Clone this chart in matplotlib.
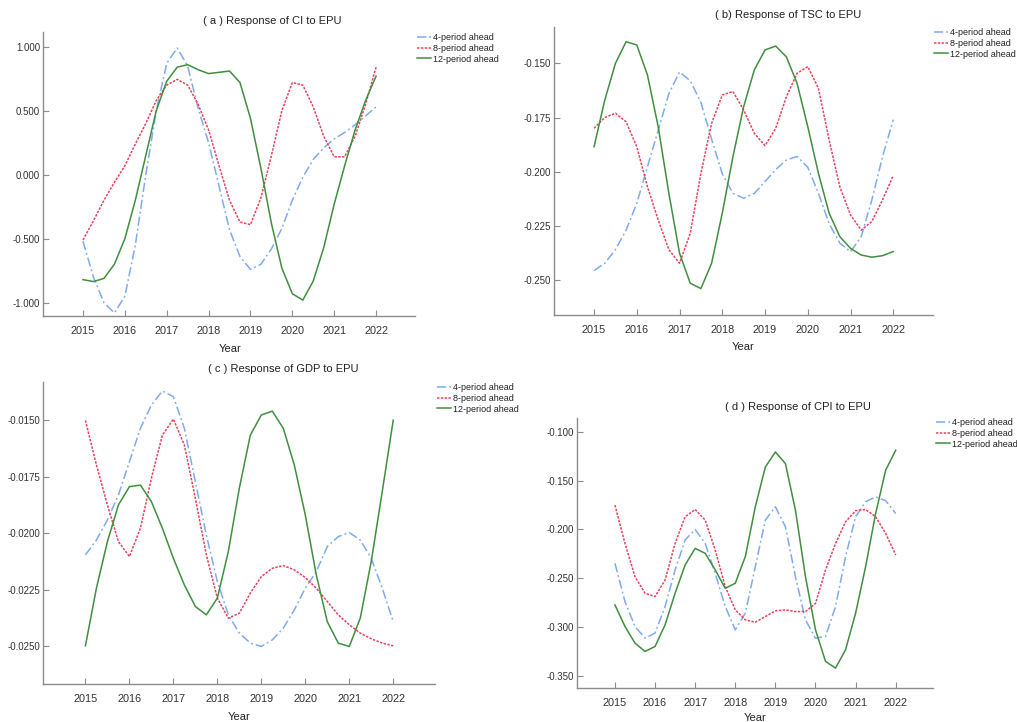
import matplotlib.pyplot as plt

plt.rcParams['font.family'] = ['Liberation Sans', 'DejaVu Sans']

W, H = 1017, 722

# quarter-year grid shared by all panels
years = [2015 + 0.25 * i for i in range(29)]
year_ticks = [2015, 2016, 2017, 2018, 2019, 2020, 2021, 2022]
labels = ['4-period ahead', '8-period ahead', '12-period ahead']

# ( a ) CI
ci_4 = [-0.52, -0.80, -1.00, -1.08, -0.95, -0.55, 0.00, 0.50, 0.87, 0.99, 0.85, 0.52, 0.25,
        -0.09, -0.43, -0.64, -0.74, -0.70, -0.58, -0.42, -0.20, -0.02, 0.12, 0.21, 0.28,
        0.33, 0.39, 0.46, 0.53]
ci_8 = [-0.51, -0.36, -0.20, -0.06, 0.07, 0.24, 0.40, 0.58, 0.70, 0.745, 0.70, 0.55, 0.35,
        0.07, -0.20, -0.37, -0.39, -0.18, 0.15, 0.50, 0.72, 0.70, 0.53, 0.30, 0.14,
        0.14, 0.30, 0.55, 0.84]
ci_12 = [-0.82, -0.835, -0.81, -0.70, -0.50, -0.20, 0.15, 0.50, 0.73, 0.84, 0.86, 0.82, 0.79,
         0.80, 0.81, 0.72, 0.44, 0.05, -0.38, -0.73, -0.93, -0.98, -0.83, -0.57, -0.23,
         0.07, 0.35, 0.58, 0.77]

# ( b ) TSC
tsc_4 = [-0.2457, -0.2423, -0.2360, -0.2270, -0.2146, -0.1977, -0.1810, -0.1640, -0.1540,
         -0.1580, -0.1680, -0.1850, -0.2010, -0.2100, -0.2123, -0.2100, -0.2046, -0.1990,
         -0.1946, -0.1930, -0.1980, -0.2100, -0.2240, -0.2330, -0.2370, -0.2300, -0.2130,
         -0.1930, -0.1760]
tsc_8 = [-0.1800, -0.1750, -0.1730, -0.1770, -0.1885, -0.2070, -0.2223, -0.2360, -0.2423,
         -0.2285, -0.2008, -0.1777, -0.1646, -0.1630, -0.1715, -0.1823, -0.1880, -0.1800,
         -0.1654, -0.1546, -0.1515, -0.1615, -0.1854, -0.2070, -0.2200, -0.2270, -0.2230,
         -0.2130, -0.2018]
tsc_12 = [-0.1885, -0.1670, -0.1500, -0.1400, -0.1415, -0.1554, -0.1792, -0.2100, -0.2377,
          -0.2515, -0.2540, -0.2423, -0.2192, -0.1930, -0.1700, -0.1530, -0.1438, -0.1420,
          -0.1470, -0.1592, -0.1792, -0.2008, -0.2192, -0.2300, -0.2354, -0.2385, -0.2395,
          -0.2388, -0.2369]

# ( c ) GDP
gdp_4 = [-0.02095, -0.02029, -0.01940, -0.01830, -0.01683, -0.01535, -0.01432, -0.01370,
         -0.01395, -0.01535, -0.01771, -0.02007, -0.02213, -0.02360, -0.02441, -0.02485,
         -0.02500, -0.02471, -0.02419, -0.02338, -0.02242, -0.02169, -0.02058, -0.02014,
         -0.01996, -0.02029, -0.02110, -0.02242, -0.02390]
gdp_8 = [-0.01500, -0.01697, -0.01874, -0.02036, -0.02102, -0.01977, -0.01756, -0.01565,
         -0.01494, -0.01609, -0.01845, -0.02095, -0.02286, -0.02375, -0.02353, -0.02264,
         -0.02191, -0.02154, -0.02142, -0.02161, -0.02195, -0.02242, -0.02301, -0.02360,
         -0.02404, -0.02441, -0.02466, -0.02485, -0.02497]
gdp_12 = [-0.02497, -0.02242, -0.02036, -0.01874, -0.01793, -0.01786, -0.01859, -0.01977,
          -0.02110, -0.02228, -0.02323, -0.02360, -0.02286, -0.02080, -0.01800, -0.01565,
          -0.01476, -0.01459, -0.01535, -0.01697, -0.01918, -0.02183, -0.02390, -0.02485,
          -0.02500, -0.02375, -0.02124, -0.01815, -0.01499]

# ( d ) CPI
cpi_4 = [-0.2347, -0.2740, -0.2995, -0.3115, -0.3063, -0.2790, -0.2415, -0.2108, -0.2000,
         -0.2143, -0.2450, -0.2790, -0.3030, -0.2859, -0.2381, -0.1904, -0.1767, -0.1972,
         -0.2484, -0.2927, -0.3115, -0.3098, -0.2790, -0.2279, -0.1870, -0.1716, -0.1665,
         -0.1706, -0.1836]
cpi_8 = [-0.1750, -0.2143, -0.2484, -0.2654, -0.2688, -0.2518, -0.2143, -0.1870, -0.1795,
         -0.1904, -0.2211, -0.2586, -0.2825, -0.2927, -0.2951, -0.2893, -0.2835, -0.2825,
         -0.2842, -0.2842, -0.2760, -0.2415, -0.2143, -0.1921, -0.1808, -0.1795, -0.1870,
         -0.2040, -0.2262]
cpi_12 = [-0.2774, -0.2995, -0.3166, -0.3251, -0.3200, -0.2978, -0.2654, -0.2364, -0.2194,
          -0.2245, -0.2415, -0.2603, -0.2552, -0.2279, -0.1767, -0.1360, -0.1205, -0.1324,
          -0.1802, -0.2484, -0.3029, -0.3353, -0.3422, -0.3234, -0.2859, -0.2381, -0.1836,
          -0.1392, -0.1188]

panels = [
    # title, series, yticks, ytick labels, px box (l, r, t, b), xlim, ylim,
    # title xy, legend xy, "Year" xy
    ('( a ) Response of CI to EPU', (ci_4, ci_8, ci_12),
     [1.0, 0.5, 0.0, -0.5, -1.0], ['1.000', '0.500', '0.000', '-0.500', '-1.000'],
     (43, 415, 32, 316), (2014.045, 2022.93), (-1.104, 1.115),
     (272, 21), (417, 33), (230, 349)),
    ('( b) Response of TSC to EPU', (tsc_4, tsc_8, tsc_12),
     [-0.150, -0.175, -0.200, -0.225, -0.250],
     ['-0.150', '-0.175', '-0.200', '-0.225', '-0.250'],
     (554, 933, 27, 315), (2014.063, 2022.93), (-0.2662, -0.1332),
     (788, 15), (934, 28), (743, 347)),
    ('( c ) Response of GDP to EPU', (gdp_4, gdp_8, gdp_12),
     [-0.0150, -0.0175, -0.0200, -0.0225, -0.0250],
     ['-0.0150', '-0.0175', '-0.0200', '-0.0225', '-0.0250'],
     (43, 435, 382, 684), (2014.035, 2022.95), (-0.02666, -0.01330),
     (283, 369), (437, 383), (239, 717)),
    ('( d ) Response of CPI to EPU', (cpi_4, cpi_8, cpi_12),
     [-0.100, -0.150, -0.200, -0.250, -0.300, -0.350],
     ['-0.100', '-0.150', '-0.200', '-0.250', '-0.300', '-0.350'],
     (577, 933, 418, 688), (2014.054, 2022.93), (-0.3626, -0.0857),
     (798, 407), (936, 418), (755, 718)),
]

styles = [
    dict(color='#7eaaf0', dashes=(6, 2, 1.2, 2)),
    dict(color='#e8415c', dashes=(1.6, 0.9)),
    dict(color='#3f8f3f', linestyle='-'),
]

fig = plt.figure(figsize=(W / 100, H / 100), dpi=100)

for title, series, yt, ytl, box, xlim, ylim, txy, lxy, yxy in panels:
    l, r, t, b = box
    ax = fig.add_axes([l / W, 1 - b / H, (r - l) / W, (b - t) / H])
    lines = []
    for vals, st in zip(series, styles):
        ln, = ax.plot(years, vals, lw=1.1, **st)
        lines.append(ln)
    ax.set_xlim(*xlim)
    ax.set_ylim(*ylim)
    ax.set_xticks(year_ticks)
    ax.set_xticklabels([str(y) for y in year_ticks])
    ax.set_yticks(yt)
    ax.set_yticklabels(ytl)
    for s in ['top', 'right']:
        ax.spines[s].set_visible(False)
    for s in ['left', 'bottom']:
        ax.spines[s].set_color('#8c8c8c')
        ax.spines[s].set_linewidth(1.0)
    ax.tick_params(axis='x', direction='in', length=4, width=0.8, color='#8c8c8c',
                   labelsize=7.8, labelcolor='#333333', pad=7)
    ax.tick_params(axis='y', direction='in', length=4, width=0.8, color='#8c8c8c',
                   labelsize=7.0, labelcolor='#333333', pad=2)
    ax.patch.set_visible(False)

    fig.text(txy[0] / W, 1 - txy[1] / H, title, ha='center', va='center',
             fontsize=8, color='#222222')
    fig.text(yxy[0] / W, 1 - yxy[1] / H, 'Year', ha='center', va='center',
             fontsize=8, color='#222222')
    fig.legend(lines, labels, loc='upper left',
               bbox_to_anchor=(lxy[0] / W, 1 - lxy[1] / H),
               frameon=False, fontsize=6.5, handlelength=1.6, handletextpad=0.2,
               labelspacing=0.2, borderpad=0, borderaxespad=0,
               labelcolor='#222222')

fig.savefig('out.png', dpi=100)
